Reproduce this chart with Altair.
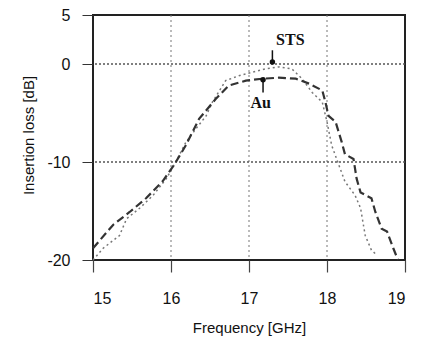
import altair as alt
import pandas as pd

au_freq = [15.0, 15.26, 15.47, 15.68, 15.89, 16.04, 16.19, 16.36, 16.57, 16.74, 16.96, 17.17, 17.38, 17.6, 17.77, 17.94, 17.98, 18.02, 18.11, 18.19, 18.23, 18.34, 18.38, 18.43, 18.57, 18.62, 18.7, 18.77, 18.85, 18.91]
au_loss = [-18.8, -16.4, -15.1, -13.7, -12.0, -10.3, -8.3, -5.6, -3.6, -2.2, -1.7, -1.5, -1.4, -1.5, -2.0, -2.7, -3.9, -5.3, -5.9, -8.0, -9.2, -9.7, -11.7, -13.1, -13.7, -15.1, -16.8, -17.1, -18.8, -20.0]

sts_freq = [15.0, 15.13, 15.34, 15.43, 15.6, 15.77, 15.94, 16.06, 16.19, 16.32, 16.45, 16.53, 16.7, 16.87, 17.04, 17.21, 17.38, 17.55, 17.68, 17.81, 17.94, 18.0, 18.06, 18.17, 18.23, 18.36, 18.43, 18.49, 18.57, 18.64]
sts_loss = [-20.0, -18.8, -17.5, -15.8, -14.7, -13.4, -11.7, -10.0, -8.0, -6.6, -5.3, -3.9, -1.7, -1.2, -0.85, -0.5, -0.3, -0.5, -1.5, -2.9, -3.9, -5.9, -8.3, -10.7, -12.0, -13.4, -14.7, -17.5, -19.0, -19.5]

x_ticks = [15, 16, 17, 18, 19]
y_ticks = [5, 0, -10, -20]
x_grid = [16, 17, 18]
y_grid = [0, -10]

ann_text = ["STS", "Au"]
ann_x = [17.53, 17.15]
ann_y = [2.45, -4.0]
arrow_x = [17.3, 17.18]
arrow_y1 = [1.4, -2.9]
arrow_y2 = [0.2, -1.6]

df = pd.DataFrame({
    "freq": au_freq + sts_freq,
    "loss": au_loss + sts_loss,
    "series": ["Au"] * len(au_freq) + ["STS"] * len(sts_freq),
    "order": list(range(len(au_freq))) + list(range(len(sts_freq))),
})

xs = alt.Scale(domain=[15, 19], nice=False)
ys = alt.Scale(domain=[-20, 5], nice=False)

xaxis = alt.Axis(values=x_ticks, title="Frequency [GHz]", grid=False, tickSize=12, tickColor="#444",
                 tickWidth=1.2, labelExpr="'' + datum.value",
                 labelFontSize=16, labelPadding=18, titleFontSize=15, titlePadding=14,
                 domain=False, labelColor="#111", titleColor="#111", titleFontWeight="normal",
                 labelFont="Liberation Sans", titleFont="Liberation Sans")
yaxis = alt.Axis(values=y_ticks, title="Insertion loss [dB]", grid=False, tickSize=11, tickColor="#333",
                 labelExpr="'' + datum.value",
                 labelFontSize=16, labelPadding=12, titleFontSize=15, titlePadding=10,
                 titleY=120,
                 domain=False, labelColor="#111", titleColor="#111", titleFontWeight="normal",
                 labelFont="Liberation Sans", titleFont="Liberation Sans")

grid_x = alt.Chart(pd.DataFrame({"g": x_grid})).mark_rule(
    color="#777", strokeDash=[2, 3], strokeWidth=1
).encode(x=alt.X("g:Q", scale=xs))
grid_y = alt.Chart(pd.DataFrame({"g": y_grid})).mark_rule(
    color="#555", strokeDash=[2, 2], strokeWidth=1.5
).encode(y=alt.Y("g:Q", scale=ys))

au_line = alt.Chart(df[df.series == "Au"]).mark_line(
    color="#333", strokeWidth=2.2, strokeDash=[8, 4]
).encode(
    x=alt.X("freq:Q", scale=xs, axis=xaxis),
    y=alt.Y("loss:Q", scale=ys, axis=yaxis),
    order="order:Q",
)
sts_line = alt.Chart(df[df.series == "STS"]).mark_line(
    color="#777", strokeWidth=1.5, strokeDash=[2, 3]
).encode(
    x=alt.X("freq:Q", scale=xs),
    y=alt.Y("loss:Q", scale=ys),
    order="order:Q",
)

ann_df = pd.DataFrame({"t": ann_text, "x": ann_x, "y": ann_y,
                       "ax": arrow_x, "ay1": arrow_y1, "ay2": arrow_y2})
ann_txt = alt.Chart(ann_df).mark_text(
    font="Liberation Serif", fontWeight="bold", fontSize=16, color="#111", align="center", baseline="middle"
).encode(x=alt.X("x:Q", scale=xs), y=alt.Y("y:Q", scale=ys), text="t:N")
arrows = alt.Chart(ann_df).mark_rule(color="#111", strokeWidth=1.5).encode(
    x=alt.X("ax:Q", scale=xs), y=alt.Y("ay1:Q", scale=ys), y2="ay2:Q")
heads = alt.Chart(ann_df).mark_point(
    shape="circle", filled=True, color="#111", size=30, opacity=1
).encode(x=alt.X("ax:Q", scale=xs), y=alt.Y("ay2:Q", scale=ys))

chart = alt.layer(grid_x, grid_y, sts_line, au_line, arrows, heads, ann_txt).properties(
    width=312, height=245,
    padding={"left": 93, "top": 15, "right": 17, "bottom": 85},
    autosize=alt.AutoSizeParams(type="none"),
    background="white",
).configure_view(stroke="#222", strokeWidth=2)

chart.save("out.html", embed_options={"renderer": "svg", "actions": False})
